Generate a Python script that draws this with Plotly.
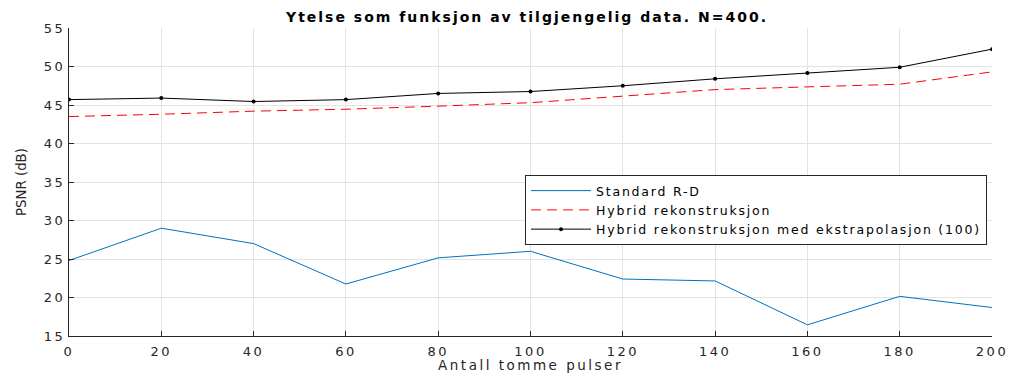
import plotly.graph_objects as go

# Antall tomme pulser (x) og PSNR-verdier (dB) for hver metode
pulser = [0, 20, 40, 60, 80, 100, 120, 140, 160, 180, 200]
standard_rd = [24.8, 29.0, 27.0, 21.75, 25.15, 26.0, 22.4, 22.15, 16.45, 20.15, 18.7]
hybrid = [43.5, 43.8, 44.2, 44.45, 44.85, 45.3, 46.15, 47.0, 47.35, 47.7, 49.3]
hybrid_ekstra = [45.7, 45.9, 45.45, 45.7, 46.5, 46.75, 47.5, 48.4, 49.15, 49.9, 52.25]

x_ticks = [0, 20, 40, 60, 80, 100, 120, 140, 160, 180, 200]
y_ticks = [15, 20, 25, 30, 35, 40, 45, 50, 55]

title_text = "Ytelse som funksjon av tilgjengelig data. N=400."
x_label = "Antall tomme pulser"
y_label = "PSNR (dB)"
series_names = [
    "Standard R-D",
    "Hybrid rekonstruksjon",
    "Hybrid rekonstruksjon med ekstrapolasjon (100)",
]

font_family = "DejaVu Sans, Verdana, sans-serif"
axis_color = "#262626"


def spaced(text, px):
    """Wrap text in a span with extra letter spacing (wide glyph look)."""
    return f'<span style="letter-spacing:{px}px">{text}</span>'


fig = go.Figure()
fig.add_trace(go.Scatter(
    x=pulser, y=standard_rd, mode="lines", name=spaced(series_names[0], 1.8),
    line=dict(color="#0072BD", width=1),
))
fig.add_trace(go.Scatter(
    x=pulser, y=hybrid, mode="lines", name=spaced(series_names[1], 1.8),
    line=dict(color="#FF0000", width=1, dash="10px,6px"),
))
fig.add_trace(go.Scatter(
    x=pulser, y=hybrid_ekstra, mode="lines+markers",
    name=spaced(series_names[2], 1.8),
    line=dict(color="#000000", width=1),
    marker=dict(color="#000000", size=4),
))

axis_common = dict(
    showgrid=True, gridcolor="#e3e3e3", gridwidth=1,
    showline=True, linecolor=axis_color, linewidth=1,
    ticks="inside", ticklen=5, tickcolor=axis_color,
    tickfont=dict(family=font_family, size=13, color=axis_color),
    zeroline=False, automargin=False,
)

fig.update_layout(
    width=1009, height=373,
    margin=dict(l=69, r=17, t=28, b=37),
    paper_bgcolor="white", plot_bgcolor="white",
    title=dict(
        text=spaced(f"<b>{title_text}</b>", 2),
        x=527 / 1009, xanchor="center",
        y=1 - 17 / 373, yanchor="middle",
        font=dict(family=font_family, size=14, color="#000000"),
    ),
    xaxis=dict(
        range=[0, 200], tickvals=x_ticks,
        ticktext=[spaced(str(v), 2.5) for v in x_ticks],
        ticklabelstandoff=3,
        title=dict(text=spaced(x_label, 2.5), standoff=3,
                   font=dict(family=font_family, size=13.5, color=axis_color)),
        **axis_common,
    ),
    yaxis=dict(
        range=[15, 55], tickvals=y_ticks,
        ticktext=[spaced(str(v), 2.5) for v in y_ticks],
        title=dict(text=y_label, standoff=14,
                   font=dict(family=font_family, size=13.3, color=axis_color)),
        **axis_common,
    ),
    legend=dict(
        x=(525 - 69) / 923, y=(336 - 175) / 308, xanchor="left", yanchor="top",
        bgcolor="white", bordercolor=axis_color, borderwidth=1,
        font=dict(family=font_family, size=12.5, color="#000000"),
        tracegroupgap=0, itemwidth=60,
    ),
    showlegend=True,
)

fig.write_html("out.html")
